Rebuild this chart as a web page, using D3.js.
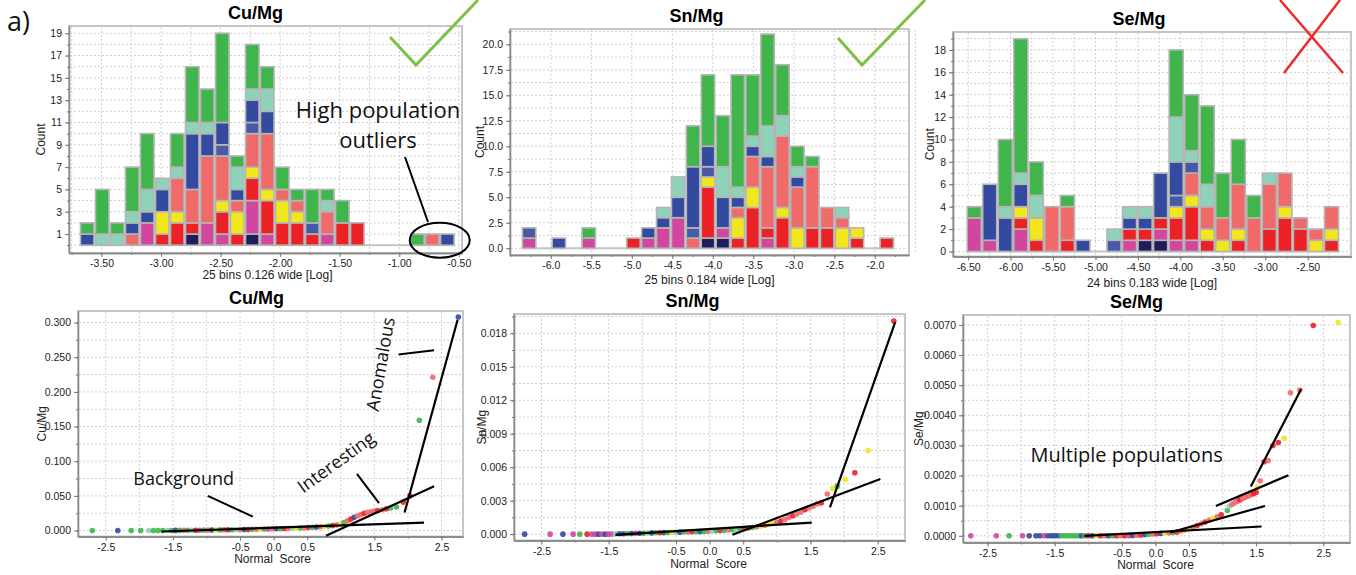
<!DOCTYPE html>
<html>
<head>
<meta charset="utf-8">
<script src="https://cdn.jsdelivr.net/npm/d3@7"></script>
<style>
body { margin: 0; background: #fff; }
svg { display: block; font-family: "Liberation Sans", Arial, sans-serif; }
.tick text { font-size: 10.5px; fill: #222; }
.tick line { stroke: #777; }
.domain { stroke: #888; stroke-width: 1.3; }
.grid line { stroke: #d0d0d0; stroke-dasharray: 2,2; stroke-width: 1; }
.note { font-family: "Open Sans", "Noto Sans", sans-serif; fill: #111; }
</style>
</head>
<body>
<svg id="fig" width="1356" height="575"></svg>
<script>
// category order, bottom of each stack first
var catNames = ["navy", "magenta", "red", "yellow", "salmon", "blue2", "blue", "teal", "green"];
var catColors = ["#1f1d5c", "#d3469f", "#ec2126", "#f2e61c", "#f06a6a", "#4959a8", "#3449a0", "#8ed2b9", "#40b54b"];

// --- histograms: counts per bin, one row per bin, one column per category
var cuBinStart = -3.683, cuBinWidth = 0.126;
var cuCounts = [
  [0,0,0,0,0,0,1,0,1], [0,0,0,0,0,0,0,1,4], [0,0,0,0,0,0,0,1,1], [0,0,0,0,1,0,1,1,4],
  [0,2,0,0,0,0,1,2,5], [0,0,1,2,0,0,2,1,0], [0,0,2,1,3,0,0,1,3], [1,0,1,0,3,0,5,1,5],
  [0,2,0,0,6,0,2,1,3], [0,1,2,1,4,1,2,0,8], [0,0,1,2,1,0,1,2,1], [1,3,2,1,3,1,2,1,4],
  [0,1,3,1,5,0,2,2,2], [0,0,2,2,1,0,0,0,2], [0,0,2,1,1,0,0,0,1], [0,0,1,0,0,1,0,0,3],
  [0,1,0,0,2,0,0,1,1], [0,0,2,0,0,0,0,0,2], [0,0,2,0,0,0,0,0,0], [0,0,0,0,0,0,0,0,0],
  [0,0,0,0,0,0,0,0,0], [0,0,0,0,0,0,0,0,0], [0,0,0,0,0,0,0,0,1], [0,0,0,0,1,0,0,0,0],
  [0,0,0,0,0,0,1,0,0]
];
var cuHistXTicks = [-3.5, -3.0, -2.5, -2.0, -1.5, -1.0, -0.5];
var cuHistYTicks = [1, 3, 5, 7, 9, 11, 13, 15, 17, 19];

var snBinStart = -6.36, snBinWidth = 0.184;
var snCounts = [
  [0,1,0,0,0,1,0,0,0], [0,0,0,0,0,0,0,0,0], [0,0,0,0,0,0,1,0,0], [0,0,0,0,0,0,0,0,0],
  [0,1,0,0,0,0,0,0,1], [0,0,0,0,0,0,0,0,0], [0,0,0,0,0,0,0,0,0], [0,0,1,0,0,0,0,0,0],
  [0,1,0,0,0,0,1,0,0], [0,2,0,0,0,0,1,1,0], [0,3,0,0,0,0,2,2,0], [0,0,0,0,1,1,6,0,4],
  [1,0,5,1,0,1,2,0,7], [1,1,0,0,0,0,3,3,5], [0,0,1,2,1,0,1,1,11], [0,0,4,2,3,0,1,1,6],
  [0,1,1,0,6,0,1,3,9], [0,0,3,1,7,0,0,2,5], [0,0,0,2,4,0,1,1,2], [0,0,2,0,6,0,0,0,1],
  [0,0,2,0,2,0,0,0,0], [0,0,0,2,1,0,0,1,0], [0,0,1,1,0,0,0,0,0], [0,0,0,0,0,0,0,0,0],
  [0,0,1,0,0,0,0,0,0]
];
var snHistXTicks = [-6.0, -5.5, -5.0, -4.5, -4.0, -3.5, -3.0, -2.5, -2.0];
var snHistYTicks = [0, 2.5, 5, 7.5, 10, 12.5, 15, 17.5, 20];

var seBinStart = -6.52, seBinWidth = 0.183;
var seCounts = [
  [0,3,0,0,0,0,0,0,1], [0,1,0,0,0,0,5,0,0], [0,0,0,0,0,0,3,1,6], [0,2,1,1,0,0,2,1,12],
  [0,0,1,2,0,0,0,2,3], [0,0,0,0,4,0,0,0,0], [0,0,1,0,3,0,0,0,1], [0,0,0,0,0,0,1,0,0],
  [0,0,0,0,0,0,0,0,0], [0,0,0,0,0,1,0,1,0], [0,1,1,0,0,0,1,1,0], [1,0,1,0,0,0,1,1,0],
  [1,1,1,0,0,0,4,0,0], [0,1,2,1,0,1,3,4,6], [0,1,3,1,2,1,0,1,5], [0,0,1,1,2,0,0,2,7],
  [0,0,0,1,2,0,0,0,4], [0,0,1,1,4,0,0,0,4], [0,0,0,0,3,0,0,0,2], [0,0,2,0,4,0,0,1,0],
  [0,0,3,1,3,0,0,0,0], [0,0,2,0,1,0,0,0,0], [0,0,0,1,1,0,0,0,0], [0,0,1,1,2,0,0,0,0]
];
var seHistXTicks = [-6.5, -6.0, -5.5, -5.0, -4.5, -4.0, -3.5, -3.0, -2.5];
var seHistYTicks = [0, 2, 4, 6, 8, 10, 12, 14, 16, 18];

// --- normal score plots: [normal score, ratio, category]
var cuPoints = [
  [-2.70,0,8],[-2.32,0,6],[-2.12,0,8],[-1.98,0,8],[-1.86,0,7],[-1.79,0,8],[-1.72,0,8],[-1.65,0,8],
  [-1.58,0.0001,7],[-1.52,0.0001,8],[-1.46,0.0002,6],[-1.40,0.0002,8],[-1.34,0.0003,4],[-1.28,0.0003,8],
  [-1.22,0.0004,7],[-1.16,0.0004,2],[-1.10,0.0005,1],[-1.04,0.0006,8],[-0.98,0.0006,4],[-0.92,0.0007,6],
  [-0.86,0.0008,3],[-0.80,0.0009,8],[-0.74,0.0010,4],[-0.68,0.0011,2],[-0.62,0.0012,8],[-0.56,0.0013,7],
  [-0.50,0.0014,4],[-0.44,0.0015,6],[-0.38,0.0016,2],[-0.32,0.0017,8],[-0.26,0.0018,4],[-0.20,0.0020,3],
  [-0.14,0.0021,8],[-0.08,0.0022,1],[-0.02,0.0024,4],[0.04,0.0025,6],[0.10,0.0027,8],[0.16,0.0029,2],
  [0.22,0.0031,4],[0.28,0.0033,7],[0.34,0.0035,3],[0.40,0.0038,8],[0.46,0.0041,4],[0.52,0.0044,2],
  [0.58,0.0047,8],[0.64,0.0051,6],[0.70,0.0055,4],[0.76,0.0060,3],[0.82,0.0066,8],[0.88,0.0073,2],
  [0.94,0.0082,4],[1.00,0.0095,3],[1.05,0.0115,8],[1.10,0.0140,4],[1.15,0.0165,2],[1.20,0.0190,6],
  [1.25,0.0210,4],[1.30,0.0230,4],[1.35,0.0250,2],[1.40,0.0262,4],[1.45,0.0272,4],[1.50,0.0280,4],
  [1.55,0.0290,2],[1.62,0.0300,4],[1.68,0.0315,2],[1.74,0.0325,8],[1.83,0.0340,8],[1.93,0.0410,2],
  [2.03,0.0500,2],[2.17,0.1590,8],[2.37,0.2210,4],[2.75,0.3080,6]
];
var snPoints = [
  [-2.75,0,6],[-2.37,0,1],[-2.18,0,6],[-2.03,0,1],[-1.93,0,8],[-1.82,0,2],[-1.75,0,1],[-1.70,0,1],
  [-1.65,0,6],[-1.60,0,1],[-1.55,0,6],[-1.50,0,1],[-1.45,0.00001,1],[-1.40,0.00002,7],[-1.34,0.00003,6],
  [-1.28,0.00004,6],[-1.22,0.00005,8],[-1.16,0.00006,6],[-1.10,0.00007,1],[-1.04,0.00008,6],[-0.98,0.00009,8],
  [-0.92,0.0001,7],[-0.86,0.00011,6],[-0.80,0.00012,8],[-0.74,0.00013,2],[-0.68,0.00014,6],[-0.62,0.00015,8],
  [-0.56,0.00016,3],[-0.50,0.00017,7],[-0.44,0.00018,6],[-0.38,0.00019,8],[-0.32,0.0002,4],[-0.26,0.00021,2],
  [-0.20,0.00022,8],[-0.14,0.00023,6],[-0.08,0.00024,8],[-0.02,0.00026,4],[0.04,0.00028,7],[0.10,0.0003,8],
  [0.16,0.00032,2],[0.22,0.00034,8],[0.28,0.00037,4],[0.34,0.0004,8],[0.40,0.00043,7],[0.46,0.00047,8],
  [0.52,0.00051,2],[0.58,0.00055,4],[0.64,0.0006,8],[0.70,0.00066,4],[0.76,0.00072,3],[0.82,0.0008,4],
  [0.88,0.00088,3],[0.94,0.00097,3],[1.00,0.00107,4],[1.06,0.00118,2],[1.12,0.0013,4],[1.18,0.00150,4],
  [1.24,0.00165,2],[1.30,0.0018,4],[1.36,0.00198,4],[1.42,0.0022,2],[1.48,0.00235,4],[1.54,0.0025,4],
  [1.60,0.0027,4],[1.66,0.0028,2],[1.75,0.0036,4],[1.83,0.0041,3],[1.90,0.0043,8],[2.02,0.0049,3],
  [2.16,0.0055,2],[2.36,0.0075,3],[2.74,0.0191,2]
];
var sePoints = [
  [-2.75,0,1],[-2.37,0,1],[-2.18,0,8],[-1.98,0,1],[-1.88,0,6],[-1.78,0,6],[-1.72,0,6],[-1.66,0,1],
  [-1.60,0,6],[-1.55,0,6],[-1.50,0,6],[-1.45,0,6],[-1.40,0,8],[-1.35,0,8],[-1.30,0,8],[-1.25,0,8],
  [-1.20,0,8],[-1.15,0,8],[-1.10,0,6],[-1.05,0,8],[-1.00,0,2],[-0.94,0,6],[-0.88,0,3],[-0.82,0,2],
  [-0.76,0,4],[-0.70,0,6],[-0.64,0,8],[-0.58,0,2],[-0.52,0,4],[-0.46,0,2],[-0.40,0,1],[-0.34,0.00001,6],
  [-0.28,0.00002,4],[-0.22,0.00003,2],[-0.16,0.00004,6],[-0.10,0.00005,8],[-0.04,0.00006,4],[0.02,0.00007,2],
  [0.08,0.00008,6],[0.14,0.00009,3],[0.20,0.0001,4],[0.26,0.00011,8],[0.32,0.00013,2],[0.38,0.00016,4],
  [0.44,0.0002,4],[0.50,0.00024,3],[0.56,0.00028,4],[0.62,0.00034,2],[0.68,0.0004,4],[0.74,0.00046,2],
  [0.80,0.00052,4],[0.86,0.00058,3],[0.92,0.00063,4],[0.98,0.0007,2],[1.07,0.00084,8],[1.10,0.00098,7],
  [1.14,0.00105,4],[1.18,0.0011,4],[1.22,0.00115,4],[1.26,0.0012,2],[1.30,0.00124,4],[1.34,0.00128,4],
  [1.38,0.00132,4],[1.42,0.00136,4],[1.46,0.0014,2],[1.50,0.00145,2],[1.52,0.0016,3],[1.56,0.00183,4],
  [1.62,0.00246,2],[1.68,0.0025,4],[1.75,0.0030,2],[1.83,0.0031,2],[1.92,0.00324,3],[2.01,0.00475,4],
  [2.15,0.00484,4],[2.35,0.00698,2],[2.72,0.00709,3]
];
// hand-drawn trend segments [x1, y1, x2, y2]
var cuSegments = [[-1.67,-0.0014,2.24,0.0115],[0.78,-0.0076,2.39,0.064],[1.95,0.026,2.74,0.304]];
var snSegments = [[-1.40,-0.00006,1.52,0.00104],[0.34,-0.00006,2.54,0.00495],[1.79,0.0024,2.76,0.0190]];
var seSegments = [[-1.06,0,1.58,0.00031],[0.22,0.00011,1.63,0.00099],[0.90,0.00099,1.98,0.00201],[1.42,0.00164,2.17,0.00487]];
var qqXTicks = [-2.5, -1.5, -0.5, 0.0, 0.5, 1.5, 2.5];
var qqXMinor = [-2.5, -2.0, -1.5, -1.0, -0.5, 0, 0.5, 1.0, 1.5, 2.0, 2.5];
var cuQQYTicks = [0, 0.05, 0.1, 0.15, 0.2, 0.25, 0.3];
var snQQYTicks = [0, 0.003, 0.006, 0.009, 0.012, 0.015, 0.018];
var seQQYTicks = [0, 0.001, 0.002, 0.003, 0.004, 0.005, 0.006, 0.007];

var svg = d3.select("#fig");

function fixed(n) { return function (d) { return d.toFixed(n); }; }
function steps(a, b, s) { return d3.range(Math.round((b - a) / s) + 1).map(function (i) { return +(a + i * s).toFixed(6); }); }

function drawFrame(o, x, y) {
  var g = svg.append("g");
  g.append("rect").attr("x", o.left).attr("y", o.top)
    .attr("width", o.right - o.left).attr("height", o.bottom - o.top)
    .attr("fill", "#fff").attr("stroke", "#c6c6c6").attr("stroke-width", 2);
  var grid = g.append("g").attr("class", "grid");
  grid.selectAll("line.gx").data(o.xGrid).join("line").attr("class", "gx")
    .attr("x1", x).attr("x2", x).attr("y1", o.top + 1).attr("y2", o.bottom - 1);
  grid.selectAll("line.gy").data(o.yGrid).join("line").attr("class", "gy")
    .attr("x1", o.left + 1).attr("x2", o.right - 1).attr("y1", y).attr("y2", y);

  g.append("text").attr("x", (o.left + o.right) / 2 + o.titleDx).attr("y", o.top - 7)
    .attr("text-anchor", "middle").attr("font-weight", "bold").attr("font-size", 18)
    .text(o.title);
  g.append("text").attr("x", (o.left + o.right) / 2 + o.xLabelDx).attr("y", o.bottom + o.xLabelDy)
    .attr("text-anchor", "middle").attr("font-size", 12).attr("fill", "#222")
    .style("white-space", "pre").text(o.xLabel);
  g.append("text").attr("transform", "translate(" + o.yLabelX + "," + ((o.top + o.bottom) / 2 + o.yLabelDy) + ") rotate(-90)")
    .attr("text-anchor", "middle").attr("font-size", 12).attr("fill", "#222").text(o.yLabel);
  return g;
}

function drawAxes(g, o, x, y) {
  g.append("g").attr("transform", "translate(0," + o.bottom + ")")
    .call(d3.axisBottom(x).tickValues(o.xMinor).tickFormat("").tickSizeInner(2).tickSizeOuter(0));
  g.append("g").attr("transform", "translate(" + o.left + ",0)")
    .call(d3.axisLeft(y).tickValues(o.yMinor).tickFormat("").tickSizeInner(2).tickSizeOuter(0));
  g.append("g").attr("transform", "translate(0," + o.bottom + ")")
    .call(d3.axisBottom(x).tickValues(o.xTicks).tickFormat(o.xFmt).tickSizeInner(4).tickSizeOuter(0).tickPadding(3));
  g.append("g").attr("transform", "translate(" + o.left + ",0)")
    .call(d3.axisLeft(y).tickValues(o.yTicks).tickFormat(o.yFmt).tickSizeInner(4).tickSizeOuter(0).tickPadding(3));
}

function drawHistogram(o) {
  var x = d3.scaleLinear().domain(o.xDomain).range([o.left, o.right]);
  var y = d3.scaleLinear().domain(o.yDomain).range([o.bottom, o.top]);
  var g = drawFrame(o, x, y);
  var binX = function (i) { return o.binStart + i * o.binWidth; };
  var series = d3.stack().keys(d3.range(catColors.length))
    .value(function (d, k) { return d[k]; })(o.counts);

  g.append("g").selectAll("line").data(o.counts).join("line")
    .attr("x1", function (d, i) { return x(binX(i)); })
    .attr("x2", function (d, i) { return x(binX(i + 1)); })
    .attr("y1", y(0)).attr("y2", y(0))
    .attr("stroke", "#c4c4c4").attr("stroke-width", 2);

  g.append("g").selectAll("g").data(series).join("g")
    .attr("fill", function (s) { return catColors[s.key]; })
    .selectAll("rect")
    .data(function (s) {
      return s.map(function (v, i) { return { y0: v[0], y1: v[1], i: i }; })
        .filter(function (v) { return v.y1 > v.y0; });
    })
    .join("rect")
    .attr("x", function (d) { return x(binX(d.i)) + 0.75; })
    .attr("width", function (d) { return x(binX(d.i + 1)) - x(binX(d.i)) - 1.5; })
    .attr("y", function (d) { return y(d.y1); })
    .attr("height", function (d) { return y(d.y0) - y(d.y1); })
    .attr("stroke", "#b5b5b5").attr("stroke-width", 1.6);

  drawAxes(g, o, x, y);
  return { g: g, x: x, y: y };
}

function drawQQ(o) {
  var x = d3.scaleLinear().domain(o.xDomain).range([o.left, o.right]);
  var y = d3.scaleLinear().domain(o.yDomain).range([o.bottom, o.top]);
  var g = drawFrame(o, x, y);
  drawAxes(g, o, x, y);
  g.append("g").selectAll("circle").data(o.points).join("circle")
    .attr("cx", function (d) { return x(d[0]); })
    .attr("cy", function (d) { return y(d[1]); })
    .attr("r", 2.8)
    .attr("fill", function (d) { return catColors[d[2]]; })
    .attr("fill-opacity", 0.9);
  g.append("g").selectAll("line").data(o.segments).join("line")
    .attr("x1", function (d) { return x(d[0]); }).attr("y1", function (d) { return y(d[1]); })
    .attr("x2", function (d) { return x(d[2]); }).attr("y2", function (d) { return y(d[3]); })
    .attr("stroke", "#000").attr("stroke-width", 2.2);
  return { g: g, x: x, y: y };
}

// ---------- top row
var cuH = drawHistogram({
  title: "Cu/Mg", titleDx: -10, xLabel: "25 bins 0.126 wide [Log]", xLabelDx: 2, xLabelDy: 26,
  yLabel: "Count", yLabelX: 45, yLabelDy: 0,
  left: 69, right: 462, top: 26, bottom: 253,
  xDomain: [-3.773, -0.473], yDomain: [-0.7, 19.65],
  binStart: cuBinStart, binWidth: cuBinWidth, counts: cuCounts,
  xTicks: cuHistXTicks, xMinor: steps(-3.75, -0.5, 0.25), xFmt: fixed(2),
  yTicks: cuHistYTicks, yMinor: d3.range(0, 20), yFmt: fixed(0),
  xGrid: steps(-3.75, -0.5, 0.25), yGrid: d3.range(0, 20)
});
drawHistogram({
  title: "Sn/Mg", titleDx: -13, xLabel: "25 bins 0.184 wide [Log]", xLabelDx: 0, xLabelDy: 29,
  yLabel: "Count", yLabelX: 484, yLabelDy: 0,
  left: 510, right: 909, top: 29, bottom: 255,
  xDomain: [-6.504, -1.578], yDomain: [-0.66, 21.5],
  binStart: snBinStart, binWidth: snBinWidth, counts: snCounts,
  xTicks: snHistXTicks, xMinor: steps(-6.5, -1.75, 0.25), xFmt: fixed(1),
  yTicks: snHistYTicks, yMinor: steps(0, 21.25, 1.25), yFmt: fixed(1),
  xGrid: steps(-6.5, -1.75, 0.5), yGrid: steps(0, 21.25, 1.25)
});
drawHistogram({
  title: "Se/Mg", titleDx: -13, xLabel: "24 bins 0.183 wide [Log]", xLabelDx: 0, xLabelDy: 30,
  yLabel: "Count", yLabelX: 934, yLabelDy: 0,
  left: 953, right: 1351, top: 32, bottom: 256.5,
  xDomain: [-6.678, -1.99], yDomain: [-0.45, 19.6],
  binStart: seBinStart, binWidth: seBinWidth, counts: seCounts,
  xTicks: seHistXTicks, xMinor: steps(-6.5, -2.0, 0.25), xFmt: fixed(2),
  yTicks: seHistYTicks, yMinor: d3.range(0, 20), yFmt: fixed(0),
  xGrid: steps(-6.5, -2.0, 0.25), yGrid: d3.range(0, 20)
});

// ---------- bottom row
var cuQ = drawQQ({
  title: "Cu/Mg", titleDx: -14, xLabel: "Normal  Score", xLabelDx: 2, xLabelDy: 26,
  yLabel: "Cu/Mg", yLabelX: 46, yLabelDy: 0,
  left: 78, right: 463, top: 311, bottom: 536.5,
  xDomain: [-2.913, 2.82], yDomain: [-0.0086, 0.3167],
  points: cuPoints, segments: cuSegments,
  xTicks: qqXTicks, xMinor: qqXMinor, xFmt: fixed(1),
  yTicks: cuQQYTicks, yMinor: steps(0, 0.3, 0.025), yFmt: fixed(3),
  xGrid: qqXMinor, yGrid: steps(0, 0.3, 0.025)
});
drawQQ({
  title: "Sn/Mg", titleDx: -17, xLabel: "Normal  Score", xLabelDx: -1, xLabelDy: 27,
  yLabel: "Sn/Mg", yLabelX: 486, yLabelDy: 0,
  left: 514, right: 905, top: 314, bottom: 540.5,
  xDomain: [-2.908, 2.906], yDomain: [-0.00057, 0.01973],
  points: snPoints, segments: snSegments,
  xTicks: qqXTicks, xMinor: qqXMinor, xFmt: fixed(1),
  yTicks: snQQYTicks, yMinor: steps(0, 0.0195, 0.0015), yFmt: fixed(3),
  xGrid: qqXMinor, yGrid: steps(0, 0.0195, 0.0015)
});
var seQ = drawQQ({
  title: "Se/Mg", titleDx: -20, xLabel: "Normal  Score", xLabelDx: -1, xLabelDy: 26,
  yLabel: "Se/Mg", yLabelX: 923, yLabelDy: 0,
  left: 963, right: 1350, top: 315, bottom: 542.5,
  xDomain: [-2.866, 2.897], yDomain: [-0.000222, 0.00733],
  points: sePoints, segments: seSegments,
  xTicks: qqXTicks, xMinor: qqXMinor, xFmt: fixed(1),
  yTicks: seQQYTicks, yMinor: steps(0, 0.007, 0.0005), yFmt: fixed(4),
  xGrid: qqXMinor, yGrid: steps(0, 0.007, 0.0005)
});

// ---------- annotations
svg.append("text").attr("class", "note").attr("x", 7).attr("y", 31).attr("font-size", 27).text("a)");

// outliers note on the Cu histogram
var ann = svg.append("g").attr("class", "note").attr("font-size", 22).attr("text-anchor", "middle");
ann.append("text").attr("x", 378).attr("y", 118).text("High population");
ann.append("text").attr("x", 378).attr("y", 148).text("outliers");
svg.append("line").attr("x1", 405).attr("y1", 157).attr("x2", 428).attr("y2", 222)
  .attr("stroke", "#000").attr("stroke-width", 2);
svg.append("ellipse").attr("cx", cuH.x(-0.66)).attr("cy", cuH.y(0.45)).attr("rx", 30).attr("ry", 17.5)
  .attr("fill", "none").attr("stroke", "#000").attr("stroke-width", 2);

// check marks and cross
var mark = svg.append("g").attr("fill", "none").attr("stroke-width", 3);
mark.append("polyline").attr("points", "390,37 416,65 478,0").attr("stroke", "#7dc242");
mark.append("polyline").attr("points", "838,38 862,65 925,0").attr("stroke", "#7dc242");
mark.append("line").attr("x1", 1280).attr("y1", 0).attr("x2", 1343).attr("y2", 73).attr("stroke", "#ee2a2a").attr("stroke-width", 2.5);
mark.append("line").attr("x1", 1284).attr("y1", 73).attr("x2", 1340).attr("y2", 0).attr("stroke", "#ee2a2a").attr("stroke-width", 2.5);

// Cu normal score notes
var cuNotes = cuQ.g.append("g").attr("class", "note").attr("font-size", 18);
cuNotes.append("text").attr("x", cuQ.x(-2.09)).attr("y", cuQ.y(0.0657)).text("Background");
cuNotes.append("text").attr("transform", "translate(" + cuQ.x(0.44) + "," + cuQ.y(0.053) + ") rotate(-36)").text("Interesting");
cuNotes.append("text").attr("transform", "translate(" + cuQ.x(1.56) + "," + cuQ.y(0.171) + ") rotate(-80)").text("Anomalous");
var cuPointers = [[-0.98, 0.050, -0.31, 0.020], [1.24, 0.0816, 1.57, 0.0394], [1.86, 0.254, 2.39, 0.260]];
cuQ.g.append("g").selectAll("line").data(cuPointers).join("line")
  .attr("x1", function (d) { return cuQ.x(d[0]); }).attr("y1", function (d) { return cuQ.y(d[1]); })
  .attr("x2", function (d) { return cuQ.x(d[2]); }).attr("y2", function (d) { return cuQ.y(d[3]); })
  .attr("stroke", "#000").attr("stroke-width", 2);

seQ.g.append("text").attr("class", "note").attr("font-size", 20)
  .attr("x", seQ.x(-1.86)).attr("y", seQ.y(0.00246)).text("Multiple populations");
</script>
</body>
</html>
